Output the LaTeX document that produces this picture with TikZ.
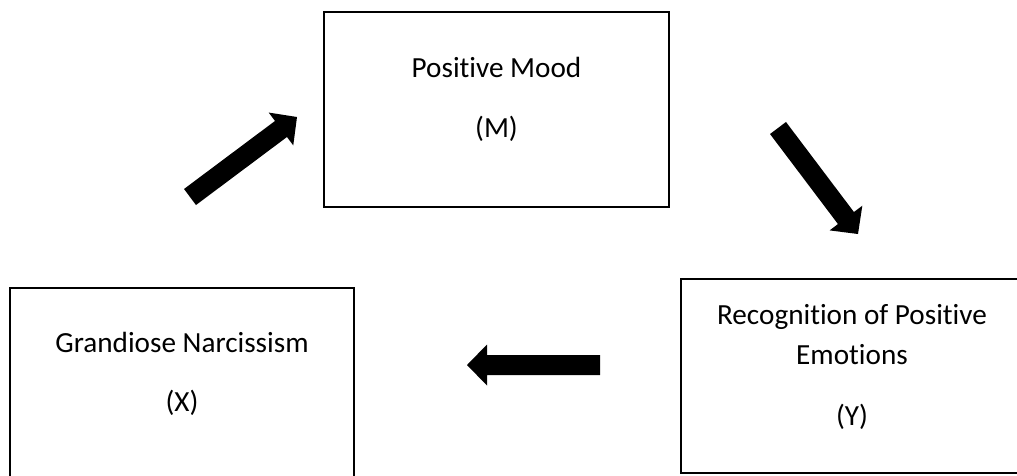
\documentclass[tikz,border=0pt]{standalone}
\usepackage{fontspec}
\setmainfont{Carlito}[Ligatures=NoCommon]
\usetikzlibrary{calc}
\newcommand{\myblockarrow}[2]{%
  \coordinate (#1-b) at ($(#2)!20pt!(#1)$);
  \fill[arrowfill] ($(#1)!10pt!90:(#2)$) -- ($(#1-b)!10pt!-90:(#1)$)
    -- ($(#1-b)!20.5pt!-90:(#1)$) -- (#2) -- ($(#1-b)!20.5pt!90:(#1)$)
    -- ($(#1-b)!10pt!90:(#1)$) -- ($(#1)!10pt!-90:(#2)$) -- cycle;}
\begin{document}
\begin{tikzpicture}[x=1pt,y=-1pt,
  box/.style={draw=black, line width=2.2pt, rectangle, inner sep=0pt},
  lbl/.style={anchor=base, inner sep=0pt, font=\fontsize{29.2}{40}\selectfont},
  arrowfill/.style={fill=black}]
\useasboundingbox (0,0) rectangle (1017,475);
\clip (0,0) rectangle (1017,475);
% boxes
\node[box, minimum width=345pt, minimum height=195pt] (M) at (496.5,109.5) {};
\node[box, minimum width=344pt, minimum height=204pt] (X) at (182,390) {};
\node[box, minimum width=342pt, minimum height=194pt] (Y) at (852,376) {};
% texts
\node[lbl] (Mt) at (496.5,77) {Positive Mood};
\node[lbl] (Ml) at (496.5,137) {(M)};
\node[lbl] (Xt) at (182,352) {Grandiose Narcissism};
\node[lbl] (Xl) at (182,411) {(X)};
\node[lbl] (Yt1) at (852,324) {Recognition of Positive};
\node[lbl] (Yt2) at (852,364) {Emotions};
\node[lbl] (Yl) at (852,425) {(Y)};
% arrows
\coordinate (a1t) at (190,197);
\coordinate (a1h) at (297,117);
\coordinate (a2t) at (778,128);
\coordinate (a2h) at (858,234);
\coordinate (a3t) at (600,365);
\coordinate (a3h) at (467,365);
\myblockarrow{a1t}{a1h}
\myblockarrow{a2t}{a2h}
\myblockarrow{a3t}{a3h}
\end{tikzpicture}
\end{document}
